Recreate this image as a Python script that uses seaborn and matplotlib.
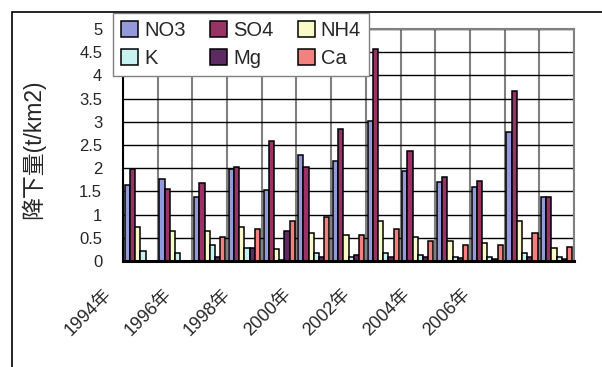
import numpy as np
import pandas as pd
import matplotlib
matplotlib.use("Agg")
import matplotlib.pyplot as plt
from matplotlib.patches import Rectangle
from matplotlib.ticker import FixedLocator
import seaborn as sns

# ---------------- data ----------------
years = ["1994年", "1995年", "1996年", "1997年", "1998年", "1999年", "2000年",
         "2001年", "2002年", "2003年", "2004年", "2005年", "2006年"]
species = ["NO3", "SO4", "NH4", "K", "Mg", "Ca"]
no3 = [1.64, 1.77, 1.39, 1.99, 1.54, 2.29, 2.16, 3.02, 1.93, 1.70, 1.60, 2.77, 1.38]
so4 = [1.98, 1.55, 1.69, 2.02, 2.59, 2.03, 2.84, 4.57, 2.38, 1.81, 1.72, 3.67, 1.38]
nh4 = [0.73, 0.64, 0.65, 0.73, 0.26, 0.60, 0.55, 0.87, 0.52, 0.43, 0.38, 0.86, 0.27]
k   = [0.22, 0.17, 0.34, 0.29, 0.03, 0.17, 0.09, 0.17, 0.14, 0.09, 0.09, 0.17, 0.09]
mg  = [np.nan, np.nan, 0.09, 0.29, 0.65, 0.09, 0.14, 0.09, 0.09, 0.06, 0.05, 0.09, 0.05]
ca  = [np.nan, np.nan, 0.52, 0.69, 0.87, 0.94, 0.56, 0.70, 0.44, 0.34, 0.34, 0.60, 0.30]
label_years = ["1994年", "1996年", "1998年", "2000年", "2002年", "2004年", "2006年"]
yticks = [0, 0.5, 1, 1.5, 2, 2.5, 3, 3.5, 4, 4.5, 5]
ytick_labels = ["0", "0.5", "1", "1.5", "2", "2.5", "3", "3.5", "4", "4.5", "5"]
colors = ["#9499DC", "#993366", "#FAFAC8", "#C8F2F2", "#5E2A64", "#F48080"]

series = dict(zip(species, [no3, so4, nh4, k, mg, ca]))
rows = []
for sp, vals in series.items():
    for yr, v in zip(years, vals):
        rows.append({"year": yr, "species": sp, "value": v})
df = pd.DataFrame(rows).dropna()

# ---------------- figure ----------------
sns.set_style("white")
plt.rcParams["font.family"] = ["Liberation Sans", "Noto Sans CJK JP", "DejaVu Sans"]

fig = plt.figure(figsize=(6.02, 3.67), dpi=100)
W, H = 602, 367
rect = [123 / W, 1 - 261 / H, (574 - 123) / W, (261 - 29) / H]

# overlay axis for the category labels: Excel packs the rotated labels a little
# tighter than the categories, so they get their own (same-category) scale
lab = fig.add_axes([60 / W, rect[1], (574 - 60) / W, rect[3]])
lab.patch.set_alpha(0)
for s in lab.spines.values():
    s.set_visible(False)
lab.set_yticks([])
lab.set_xlim(-1.44, 15.78)
lab.set_xticks([years.index(y) for y in label_years])
lab.set_xticklabels(label_years, fontsize=13)
for lbl in lab.get_xticklabels():
    lbl.set_rotation(45)
    lbl.set_ha("right")
    lbl.set_va("top")
    lbl.set_rotation_mode("anchor")
lab.tick_params(axis="x", length=0, pad=18)

ax = fig.add_axes(rect)
sns.barplot(data=df, x="year", y="value", hue="species", order=years,
            hue_order=species, palette=colors, edgecolor="black",
            linewidth=1.1, width=0.9, saturation=1, ax=ax, legend=True)

ax.set_xlim(-0.5, len(years) - 0.5)
ax.set_ylim(0, 5)
ax.set_yticks(yticks)
ax.set_yticklabels(ytick_labels, fontsize=12)
ax.set_xticks([])
ax.set_xlabel("")
ax.set_ylabel("降下量(t/km2)", fontsize=16.5, va="center")
ax.yaxis.set_label_coords(-0.20, 0.48)
ax.tick_params(axis="y", length=0, pad=15)

# grid
ax.set_axisbelow(True)
ax.yaxis.grid(True, color="black", linewidth=1.0)
ax.xaxis.set_minor_locator(FixedLocator(np.arange(-0.5, len(years), 1.0)))
ax.tick_params(axis="x", which="both", length=0)
ax.xaxis.grid(True, which="minor", color="#808080", linewidth=1.5)

for side in ["top", "right"]:
    ax.spines[side].set_color("#808080")
    ax.spines[side].set_linewidth(1.5)
ax.spines["left"].set_color("black")
ax.spines["left"].set_linewidth(1.5)
ax.spines["bottom"].set_color("black")
ax.spines["bottom"].set_linewidth(2.2)

# legend (row-major order: NO3 SO4 NH4 / K Mg Ca)
handles, labels = ax.get_legend_handles_labels()
order = [0, 3, 1, 4, 2, 5]
leg = ax.legend([handles[i] for i in order], [labels[i] for i in order],
                ncol=3, loc="upper left",
                bbox_to_anchor=(-0.022, 1.069), borderaxespad=0,
                fontsize=14.5, frameon=True, fancybox=False,
                handlelength=0.85, handleheight=0.85, handletextpad=0.3,
                columnspacing=1.2, labelspacing=0.45, borderpad=0.4)
leg.get_frame().set_edgecolor("#808080")
leg.get_frame().set_linewidth(1.0)
leg.get_frame().set_alpha(1)

# outer chart-area frame
fig.patches.append(Rectangle((12 / W, -0.2), 2, 1.2 - 12 / H,
                             transform=fig.transFigure, fill=False,
                             edgecolor="black", linewidth=1.2))

fig.savefig("out.png", dpi=100)
